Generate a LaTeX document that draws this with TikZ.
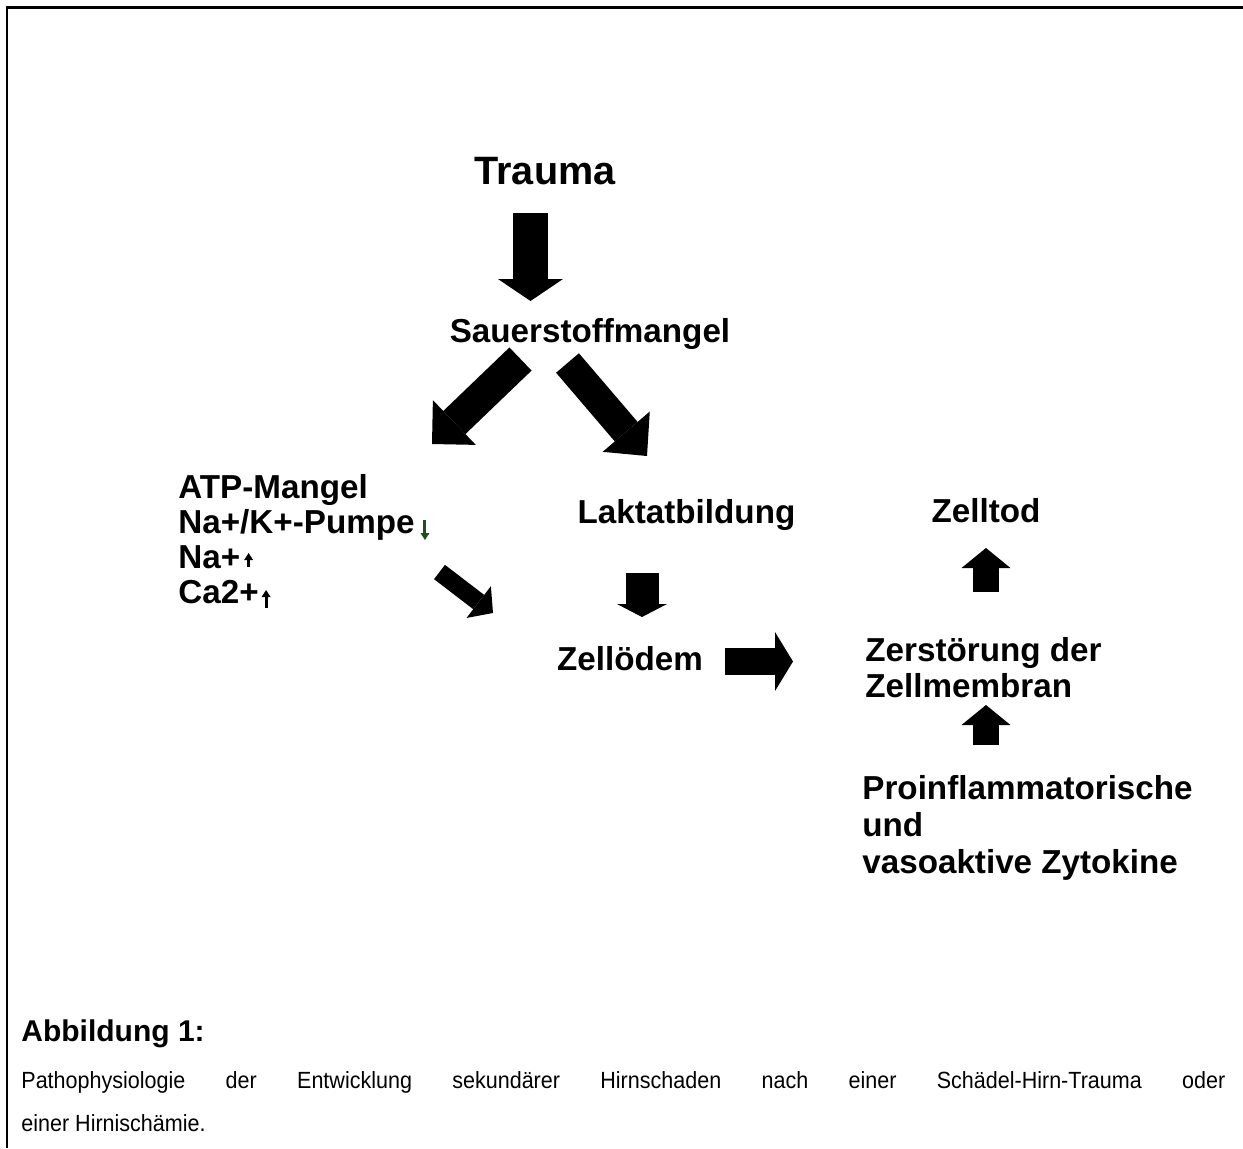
\documentclass[tikz,border=0pt]{standalone}
\usepackage{fontspec}
\setmainfont{Liberation Sans}
\newfontfamily\capfont[FakeStretch=0.92]{Liberation Sans}
\usetikzlibrary{arrows.meta,calc}
\definecolor{arrgreen}{RGB}{30,80,30}

\begin{document}
\begin{tikzpicture}[
  x=0.5pt, y=-0.5pt,
  lbl/.style={font=\fontsize{16.6}{20}\selectfont\bfseries, inner sep=0pt},
  big/.style={font=\fontsize{19.8}{24}\selectfont\bfseries, inner sep=0pt},
  captxt/.style={font=\capfont\fontsize{11.7}{14}\selectfont, inner sep=0pt},
  fat/.style n args={3}{line width=#1,
             -{Triangle[width=#2, length=#3, line width=0pt]}},
  tiny/.style={line width=1.5pt,
             -{Triangle[width=4.5pt, length=3.5pt, line width=0pt]}}
]
\useasboundingbox (0,0) rectangle (1243,1148);

% frame (top and left only)
\draw[line width=1.25pt] (1243,7.5) -- (7,7.5) -- (7,1148);

% ================= labels =================
\node[big, anchor=base] (trauma) at (545,184) {Trauma};
\node[lbl, anchor=base] (sauer) at (590,342) {Sauerstoffmangel};

\node[lbl, anchor=base west] (atp)   at (178,498) {ATP-Mangel};
\node[lbl, anchor=base west] (pumpe) at (178,533) {Na+/K+-Pumpe};
\node[lbl, anchor=base west] (na)    at (178,568) {Na+};
\node[lbl, anchor=base west] (ca)    at (178,603) {Ca2+};

\node[lbl, anchor=base] (laktat)  at (686.5,523) {Laktatbildung};
\node[lbl, anchor=base] (zelltod) at (986,522) {Zelltod};
\node[lbl, anchor=base] (oedem)   at (630,670) {Zellödem};

\node[lbl, anchor=base west] (zerst1) at (865,661) {Zerstörung der};
\node[lbl, anchor=base west] (zerst2) at (865,697) {Zellmembran};

\node[lbl, anchor=base west] (pro1) at (862,799) {Proinflammatorische};
\node[lbl, anchor=base west] (pro2) at (862,836) {und};
\node[lbl, anchor=base west] (pro3) at (862,873) {vasoaktive Zytokine};

% ================= block arrows =================
\draw[fat={17.5pt}{32.5pt}{11pt}]
  ($(trauma.base)+(-14.5,29)$) -- ($(sauer.base)+(-59.5,-41)$);
\draw[fat={16pt}{31pt}{15.5pt}]
  ($(sauer.base)+(-69.5,17)$) -- ($(atp.base west)+(254,-54)$);
\draw[fat={15pt}{31pt}{16pt}]
  ($(sauer.base)+(-22.5,21)$) -- ($(laktat.base)+(-39.5,-67)$);
\draw[fat={9pt}{20pt}{9pt}]
  ($(pumpe.base west)+(261.5,39)$) -- ($(oedem.base)+(-137,-57)$);
\draw[fat={16.5pt}{25pt}{6.5pt}]
  ($(laktat.base)+(-44.5,50)$) -- ($(oedem.base)+(12,-53)$);
\draw[fat={13.5pt}{29.5pt}{9pt}]
  ($(oedem.base east)+(22,-8.5)$) -- ($(zerst1.base west)+(-72,0.5)$);
\draw[fat={13pt}{24.5pt}{10pt}]
  ($(zerst1.base west)+(121,-69)$) -- ($(zelltod.base)+(0,26)$);
\draw[fat={13pt}{24.5pt}{10pt}]
  ($(pro1.base west)+(124,-54)$) -- ($(zerst2.base west)+(121,8)$);

% ================= small inline arrows =================
\draw[tiny, arrgreen] ($(pumpe.base east)+(10,-13)$) -- ($(pumpe.base east)+(10,7)$);
\draw[tiny] ($(na.base east)+(8,-1)$) -- ($(na.base east)+(8,-15)$);
\draw[tiny] ($(ca.base east)+(7,5)$) -- ($(ca.base east)+(7,-13)$);

% ================= caption =================
\node[anchor=base west, inner sep=0pt, font=\fontsize{15}{18}\selectfont\bfseries]
  (capt) at (21,1041) {Abbildung 1:};
\node[captxt, anchor=base west] (cap1) at (21,1088)
  {\makebox[602pt][s]{Pathophysiologie der Entwicklung
  sekundärer Hirnschaden nach einer Schädel-Hirn-Trauma oder}};
\node[captxt, anchor=base west] (cap2) at (21,1131) {einer Hirnischämie.};
\end{tikzpicture}
\end{document}
